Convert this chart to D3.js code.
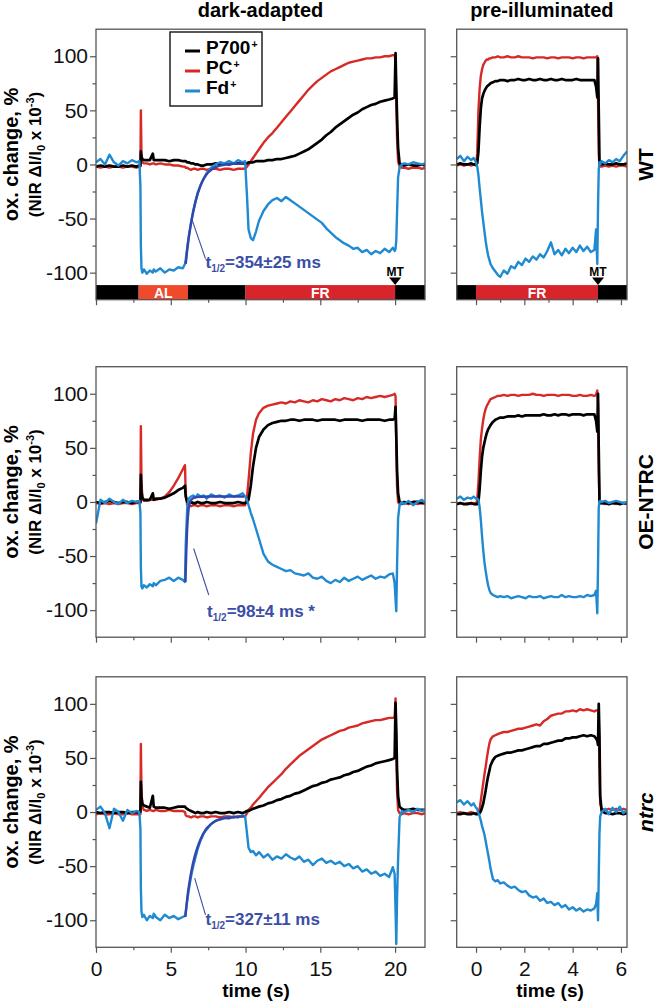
<!DOCTYPE html>
<html><head><meta charset="utf-8">
<script src="https://cdn.jsdelivr.net/npm/d3@7"></script>
<style>
body{margin:0;background:#fff;}
svg{display:block;}
text{font-family:"Liberation Sans",Arial,Helvetica,sans-serif;}
</style></head><body>
<svg id="chart" width="656" height="1003"></svg>
<script>
// ---------------- DATA ----------------
// time grid (s) for the dark-adapted traces
const tLeft = [0,0.3,0.6,0.9,1.2,1.5,1.8,2.1,2.4,2.7, 2.9,2.97,3.0,3.04,3.1,3.2, 3.4,3.6,3.8,3.86,
  4.0,4.3,4.6,4.9,5.2,5.5,5.8, 5.95,6.0,6.1,6.2,6.35,6.5,6.65,6.8, 7.0,7.2,7.4, 7.7,8.0,8.3,8.6,8.9,9.2,9.5,9.8,
  9.97,10.1,10.2,10.35,10.5,10.7,10.9,
  11.2,11.5,11.8,12.1,12.4,12.7,13.0,13.3,13.6,13.9,14.2,14.5,14.8,15.1,15.4,15.7,16.0,16.3,16.6,16.9,17.2,17.5,17.8,18.1,18.4,18.7,19.0,19.3,19.6,
  19.85,19.97,20.03,20.08,20.13,20.2,20.3,20.45,20.6, 20.9,21.2,21.5,21.8,22.0];
// time grid (s) for the pre-illuminated traces
const tRight = [-0.8,-0.65,-0.5,-0.35,-0.2,-0.1,0, 0.05,0.1,0.15,0.2,0.25,0.3,0.35,0.4,0.45,0.5,0.55,0.6, 0.7,0.8,0.9,1.0,
  1.15,1.3,1.45,1.6,1.75,1.9,2.05,2.2,2.35,2.5,2.65,2.8,2.95,3.1,3.25,3.4,3.55,3.7,3.85,4.0,4.15,4.3,4.45,4.6,4.75,4.9,
  4.97,5.02,5.05,5.08,5.11,5.14,5.2, 5.35,5.5,5.65,5.8,5.95,6.1,6.25];

// WT, dark-adapted
const wtDarkP700 = [-2,-1,-2,-1,-2,-2,-1,-2,-1,-2, -1,-1,12,7,5,4, 4,4,10,4, 4,4,4,3,4,4,3, 3,3,2,2,1,1,0,0, -1,-1,0, 0,1,0,1,0,1,1,1, 1,1,2,2,2,3,3,
  3,4,4,5,5,6,7,8,10,12,14,17,20,23,27,30,34,37,40,43,46,48,51,53,55,56,58,59,60,
  61,62,103,70,45,15,1,0,-1, 0,-1,-1,0,-1];
const wtDarkPC = [-2,-3,-2,-3,-2,-2,-3,-2,-2,-3, -2,-2,50,10,2,1, 1,0,1,1, 0,1,0,0,-1,-1,-2, -2,-3,-3,-4,-5,-4,-4,-5, -4,-4,-5, -4,-4,-5,-4,-4,-5,-4,-4, -4,-2,0,3,6,10,14,
  20,25,29,34,39,44,49,54,59,64,69,73,77,80,83,86,88,90,92,94,95,96,97,98,98,99,99,100,100,
  101,101,95,60,25,3,-2,-3,-3, -4,-3,-3,-4,-3];
const wtDarkFd = [2,5,0,9,2,-1,3,1,4,2, 3,-20,-75,-96,-100,-97, -101,-98,-100,-97, -99,-96,-100,-97,-98,-95,-96, -92,-88,-77,-67,-54,-43,-34,-26, -19,-13,-8, -3,0,2,1,3,1,4,2, 3,-30,-60,-68,-70,-62,-52,
  -43,-37,-33,-31,-34,-30,-33,-36,-39,-42,-45,-48,-51,-54,-59,-63,-67,-70,-73,-75,-78,-77,-81,-79,-83,-80,-82,-78,-81,
  -77,-80,-78,-70,-45,-12,-3,0,1, 0,2,1,0,1];
// WT, pre-illuminated
const wtPreP700 = [0,1,0,0,1,0,0, 1,12,35,52,61,65,68,70,72,73,74,75, 76,77,77,78,
  78,77,78,78,79,78,78,79,78,78,79,78,78,79,78,78,79,78,78,78,79,78,78,78,78,78,
  72,62,98,50,3,0,0, 1,0,0,1,0,0,1];
const wtPrePC = [-1,0,-1,0,-1,0,-1, 10,50,70,82,88,92,94,96,97,97,98,98, 99,99,100,99,
  99,100,99,99,100,99,99,99,98,99,99,99,98,99,99,98,99,99,99,98,99,99,98,99,99,99,
  99,100,60,10,-1,-2,-2, -1,-2,-1,-2,-1,-1,-2];
const wtPreFd = [5,8,3,7,4,6,2, -2,-10,-22,-33,-44,-53,-62,-71,-78,-84,-88,-92, -96,-99,-102,-104,
  -98,-101,-94,-96,-90,-93,-87,-90,-85,-88,-83,-86,-80,-72,-83,-79,-84,-78,-82,-77,-81,-75,-80,-76,-81,-79,
  -60,-92,-40,-5,2,0,3, 1,4,2,5,3,8,12];

// OE-NTRC, dark-adapted
const oeDarkP700 = [0,-1,0,1,0,-1,0,0,-1,0, 0,0,25,10,4,2, 2,2,8,2, 3,3,4,6,8,11,13, 15,5,0,-1,0,-1,-1,0, -1,-1,0, -1,-1,0,-1,-1,-1,0,-1, -1,0,2,15,33,50,60,
  67,71,73,74,75,75,76,76,75,76,76,76,75,76,76,76,76,75,76,76,76,76,75,76,76,76,76,75,76,
  76,77,88,60,30,8,0,-1,0, -1,0,0,-1,0];
const oeDarkPC = [-1,-2,-1,-2,-1,-2,-1,-1,-2,-1, -1,-1,70,20,3,1, 1,2,2,2, 2,3,5,9,15,22,30, 34,8,-3,-3,-4,-3,-3,-4, -3,-3,-4, -3,-3,-4,-3,-3,-4,-3,-3, -3,5,20,45,63,76,82,
  87,89,90,91,92,91,93,92,94,93,92,94,93,95,94,93,95,94,96,95,94,96,95,97,96,97,98,97,98,
  99,100,98,55,15,0,-2,-2,-1, -2,-1,-2,-1,-2];
const oeDarkFd = [-20,2,-1,3,0,-2,2,-1,1,0, 1,-10,-60,-78,-80,-77, -79,-76,-78,-75, -77,-73,-72,-70,-73,-70,-72, -74,-40,-5,3,5,6,4,7, 5,6,3, 7,5,6,4,7,5,6,8, 5,2,-3,-10,-16,-25,-34,
  -48,-55,-58,-60,-62,-64,-63,-66,-67,-68,-66,-70,-71,-69,-73,-75,-72,-74,-70,-73,-71,-69,-72,-70,-68,-71,-69,-70,-67,
  -66,-75,-90,-101,-60,-15,-3,0,-2, 1,-3,0,2,-1];
// OE-NTRC, pre-illuminated
const oePreP700 = [-2,-1,-2,-2,-1,-2,-2, -2,0,12,29,42,50,55,60,64,67,69,71, 74,76,77,78,
  78,79,79,79,80,79,80,80,80,80,80,81,80,80,81,80,81,81,80,81,81,81,80,81,81,81,
  75,65,100,50,2,-1,-1, -1,-2,-1,-1,-2,-1,-1];
const oePrePC = [-2,-1,-2,-1,-2,-1,-2, 2,18,40,58,68,76,82,86,89,91,93,95, 96,97,98,98,
  99,98,99,99,98,99,99,99,100,99,99,98,99,99,99,98,99,99,99,98,98,99,98,98,99,98,
  99,103,90,30,0,-1,-1, -2,-1,-1,-2,-1,-1,-2];
const oePreFd = [3,5,2,4,3,5,3, 3,2,-5,-17,-32,-45,-56,-64,-71,-77,-81,-84, -86,-87,-88,-87,
  -88,-87,-89,-88,-87,-88,-89,-87,-88,-88,-87,-89,-88,-87,-88,-88,-86,-88,-87,-88,-88,-87,-88,-86,-87,-86,
  -82,-103,-60,-5,0,1,0, 1,-1,0,1,0,-1,0];

// ntrc, dark-adapted
const ntDarkP700 = [0,-1,0,0,-1,0,0,-1,0,0, 0,0,28,14,8,6, 5,4,15,5, 4,4,4,3,4,5,5, 5,4,3,2,1,0,-1,0, -1,-1,0, -1,0,-1,-1,0,-1,0,-1, 0,1,1,2,3,4,5,
  6,8,9,11,12,14,15,17,18,20,22,24,25,27,28,30,31,32,34,35,37,38,40,42,43,45,46,47,48,
  49,50,101,75,40,15,5,3,2, 2,3,2,2,2];
const ntDarkPC = [-2,-1,-2,-2,-1,-2,-2,-1,-2,-2, -2,-2,63,20,5,2, 1,2,1,1, 2,1,1,2,1,1,1, 0,-3,-4,-4,-5,-4,-4,-5, -4,-4,-5, -4,-4,-5,-4,-4,-5,-4,-4, -4,-1,2,4,7,10,13,
  18,23,27,31,35,40,44,48,52,55,58,61,64,67,69,71,73,75,76,78,79,80,82,83,84,85,85,86,87,
  87,88,105,60,20,2,-1,-2,-1, -2,-1,-1,-2,-1];
const ntDarkFd = [2,5,-1,-15,3,0,-8,2,-1,1, 0,-15,-70,-92,-97,-95, -100,-96,-98,-94, -97,-100,-95,-98,-96,-99,-97, -96,-92,-82,-72,-60,-50,-42,-34, -26,-20,-16, -11,-8,-7,-5,-6,-4,-5,-3, -4,-20,-33,-37,-36,-40,-37,
  -42,-39,-44,-41,-43,-39,-42,-44,-41,-46,-44,-49,-45,-43,-47,-45,-48,-46,-50,-48,-52,-50,-55,-53,-57,-55,-59,-57,-60,
  -51,-57,-90,-122,-80,-44,-5,1,0, 2,0,3,1,2];
// ntrc, pre-illuminated
const ntPreP700 = [-2,-2,-1,-2,-2,-1,-2, -2,-2,-1,1,4,8,14,20,27,33,38,43, 48,51,52,53,
  54,55,55,56,57,57,58,59,60,61,61,63,63,64,65,66,66,68,68,69,69,70,71,70,71,70,
  68,66,62,100,70,15,1, -1,-1,-2,-1,-1,-2,-1];
const ntPrePC = [-1,0,-1,-1,0,-1,-1, -1,0,3,11,19,27,35,42,50,57,63,67, 70,71,72,73,
  74,74,75,76,77,77,78,79,80,81,80,84,86,89,90,91,91,93,93,94,93,95,94,95,94,93,
  94,94,93,90,40,8,3, 2,3,2,3,2,3,2];
const ntPreFd = [9,11,7,10,6,8,4, 3,-1,-4,-8,-13,-17,-21,-27,-33,-39,-45,-52, -62,-64,-63,-66,
  -65,-68,-70,-69,-72,-74,-73,-77,-79,-78,-82,-80,-84,-83,-86,-84,-88,-86,-90,-88,-91,-89,-92,-90,-91,-89,
  -85,-75,-100,-60,-20,-4,0, 3,-2,4,0,5,-1,2];

// exponential fits of the Fd re-reduction after actinic light off
const fitWtT = [6.0,6.1,6.2,6.35,6.5,6.7,6.9,7.1,7.4,7.8,8.3,9.0,9.9];
const fitWtV = [-92,-79,-68,-55,-44,-32,-23,-16,-9,-4,-1,0.5,1];
const fitOeT = [5.98,6.03,6.08,6.13,6.2,6.3,6.45,6.7,7.5,9.9];
const fitOeV = [-74,-50,-30,-17,-6,0,3,4.5,5,5];
const fitNtT = [5.98,6.1,6.25,6.4,6.6,6.8,7.0,7.3,7.7,8.2,9.0,9.9];
const fitNtV = [-97,-80,-65,-53,-41,-32,-25,-17,-11,-7,-5,-4];
const halfTimes = ["354±25 ms", "98±4 ms *", "327±11 ms"];

// light protocol bars
const protoDarkStart = [0, 2.85, 6.15, 10, 20];
const protoDarkEnd   = [2.85, 6.15, 10, 20, 22];
const protoDarkKind  = ["dark", "AL", "dark", "FR", "dark"];
const protoPreStart = [-0.8, 0, 5.05];
const protoPreEnd   = [0, 5.05, 6.25];
const protoPreKind  = ["dark", "FR", "dark"];
const mtDark = 20, mtPre = 5.05;

// axes ticks and labels
const yMajor = [-100, -50, 0, 50, 100];
const yMinor = [-75, -25, 25, 75];
const xDarkMajor = [0, 5, 10, 15, 20];
const xDarkMinor = [2.5, 7.5, 12.5, 17.5];
const xPreMajor = [0, 2, 4, 6];
const xPreMinor = [1, 3, 5];
const rowLabels = ["WT", "OE-NTRC", "ntrc"];
const colTitles = ["dark-adapted", "pre-illuminated"];
const seriesNames = ["P700", "PC", "Fd"];

// sanity check
[["wtDarkP700",wtDarkP700],["wtDarkPC",wtDarkPC],["wtDarkFd",wtDarkFd],["oeDarkP700",oeDarkP700],["oeDarkPC",oeDarkPC],["oeDarkFd",oeDarkFd],["ntDarkP700",ntDarkP700],["ntDarkPC",ntDarkPC],["ntDarkFd",ntDarkFd]].forEach(([n,a])=>{ if(a.length!==tLeft.length) throw new Error(n+" length "+a.length+" != "+tLeft.length); });
[["wtPreP700",wtPreP700],["wtPrePC",wtPrePC],["wtPreFd",wtPreFd],["oePreP700",oePreP700],["oePrePC",oePrePC],["oePreFd",oePreFd],["ntPreP700",ntPreP700],["ntPrePC",ntPrePC],["ntPreFd",ntPreFd]].forEach(([n,a])=>{ if(a.length!==tRight.length) throw new Error(n+" length "+a.length+" != "+tRight.length); });

// ---------------- LAYOUT ----------------
const rows = [
  {dark:{p700:wtDarkP700, pc:wtDarkPC, fd:wtDarkFd}, pre:{p700:wtPreP700, pc:wtPrePC, fd:wtPreFd},
   fit:{t:fitWtT, v:fitWtV}, ann:{line:[[6.42,-51],[7.32,-87]], text:[7.32,-96]}},
  {dark:{p700:oeDarkP700, pc:oeDarkPC, fd:oeDarkFd}, pre:{p700:oePreP700, pc:oePrePC, fd:oePreFd},
   fit:{t:fitOeT, v:fitOeV}, ann:{line:[[6.53,-43],[7.54,-86]], text:[7.43,-106]}},
  {dark:{p700:ntDarkP700, pc:ntDarkPC, fd:ntDarkFd}, pre:{p700:ntPreP700, pc:ntPrePC, fd:ntPreFd},
   fit:{t:fitNtT, v:fitNtV}, ann:{line:[[6.6,-61],[7.32,-95]], text:[7.32,-104]}}
];
const COL = {
  dark:{x0:96, x1:425, domain:[0,22], t:tLeft, xMajor:xDarkMajor, xMinor:xDarkMinor},
  pre:{x0:456.7, x1:627, domain:[-0.8,6.25], t:tRight, xMajor:xPreMajor, xMinor:xPreMinor}
};
const ROW_TOP = [29.2, 366.7, 676.8], ROW_H = 270.5;
const C = {p700:"#000000", pc:"#d62a27", fd:"#1f8ad2", fit:"#3446ad", ann:"#3b4ea6",
  axis:"#555555", AL:"#ee4a2b", FR:"#d8242b", dark:"#000000"};
const FONT = '"Liberation Sans",Arial,Helvetica,sans-serif';

const svg = d3.select("#chart");
const defs = svg.append("defs");

rows.forEach((row, ri) => {
  ["dark","pre"].forEach(ck => {
    const col = COL[ck];
    const x = d3.scaleLinear().domain(col.domain).range([col.x0, col.x1]);
    const y = d3.scaleLinear().domain([-125,125]).range([ROW_TOP[ri]+ROW_H, ROW_TOP[ri]]);
    const g = svg.append("g");
    const clipId = `clip-${ri}-${ck}`;
    defs.append("clipPath").attr("id", clipId).append("rect")
      .attr("x", col.x0).attr("y", ROW_TOP[ri]).attr("width", col.x1-col.x0).attr("height", ROW_H);

    // traces
    const tg = g.append("g").attr("clip-path", `url(#${clipId})`);
    const line = d3.line().x((d,i)=>x(col.t[i])).y(d=>y(d));
    [["pc",2.4],["p700",2.7],["fd",2.4]].forEach(([k,w]) => {
      tg.append("path").attr("d", line(row[ck][k])).attr("fill","none")
        .attr("stroke", C[k]).attr("stroke-width", w).attr("stroke-linejoin","round");
    });

    if (ck === "dark") {
      const fl = d3.line().x((d,i)=>x(row.fit.t[i])).y(d=>y(d)).curve(d3.curveMonotoneX);
      tg.append("path").attr("d", fl(row.fit.v)).attr("fill","none")
        .attr("stroke", C.fit).attr("stroke-width", 2.4);
      // pointer + text
      const a = row.ann;
      g.append("line").attr("x1", x(a.line[0][0])).attr("y1", y(a.line[0][1]))
        .attr("x2", x(a.line[1][0])).attr("y2", y(a.line[1][1]))
        .attr("stroke", C.ann).attr("stroke-width", 1.1);
      const at = g.append("text").attr("x", x(a.text[0])).attr("y", y(a.text[1]))
        .attr("fill", C.ann).attr("font-weight","bold").attr("font-size", 17);
      at.append("tspan").text("t");
      at.append("tspan").attr("font-size", 10).attr("dy", 4).text("1/2");
      at.append("tspan").attr("dy", -4).text("=" + halfTimes[ri]);
    }

    // protocol bar (top row only)
    if (ri === 0) {
      const starts = ck==="dark" ? protoDarkStart : protoPreStart;
      const ends = ck==="dark" ? protoDarkEnd : protoPreEnd;
      const kinds = ck==="dark" ? protoDarkKind : protoPreKind;
      const yb0 = y(-111.5), yb1 = y(-125);
      starts.forEach((s,i) => {
        g.append("rect").attr("x", x(s)).attr("y", yb0).attr("width", x(ends[i])-x(s)).attr("height", yb1-yb0)
          .attr("fill", C[kinds[i]]);
        if (kinds[i] !== "dark") {
          g.append("text").attr("x", (x(s)+x(ends[i]))/2).attr("y", yb1-1.8)
            .attr("text-anchor","middle").attr("fill","#fff").attr("font-weight","bold")
            .attr("font-size", 14).text(kinds[i]);
        }
      });
      const mx = x(ck==="dark" ? mtDark : mtPre);
      g.append("path").attr("d", `M${mx-6},${yb0-7.5}L${mx+6},${yb0-7.5}L${mx},${yb0}Z`).attr("fill","#000");
      g.append("text").attr("x", mx).attr("y", yb0-9.5).attr("text-anchor","middle")
        .attr("font-weight","bold").attr("font-size", 12).text("MT");
    }

    // axes
    const styleAxis = sel => {
      sel.select(".domain").remove();
      sel.selectAll("line").attr("stroke", C.axis).attr("stroke-width", 1.2);
      sel.selectAll("text").attr("font-family", FONT).attr("font-size", 21).attr("fill","#111");
    };
    g.append("g").attr("transform", `translate(${col.x0},0)`)
      .call(d3.axisLeft(y).tickValues(yMajor).tickSize(6).tickPadding(2)
        .tickFormat(ck==="dark" ? (d=>String(d)) : (()=>"")))
      .call(styleAxis);
    g.append("g").attr("transform", `translate(${col.x0},0)`)
      .call(d3.axisLeft(y).tickValues(yMinor).tickSize(3.5).tickFormat(()=>""))
      .call(styleAxis);
    const yBot = ROW_TOP[ri] + ROW_H;
    g.append("g").attr("transform", `translate(0,${yBot})`)
      .call(d3.axisBottom(x).tickValues(col.xMajor).tickSize(5.5).tickPadding(8.5)
        .tickFormat(ri===2 ? (d=>String(d)) : (()=>"")))
      .call(styleAxis);
    g.append("g").attr("transform", `translate(0,${yBot})`)
      .call(d3.axisBottom(x).tickValues(col.xMinor).tickSize(3).tickFormat(()=>""))
      .call(styleAxis);

    // frame
    g.append("rect").attr("x", col.x0).attr("y", ROW_TOP[ri]).attr("width", col.x1-col.x0).attr("height", ROW_H)
      .attr("fill","none").attr("stroke", C.axis).attr("stroke-width", 1.3);

    // y-axis title (left column)
    if (ck === "dark") {
      const cy = ROW_TOP[ri] + ROW_H/2 - 10;
      svg.append("text").attr("transform", `translate(17.5,${cy}) rotate(-90)`)
        .attr("text-anchor","middle").attr("font-weight","bold").attr("font-size", 20)
        .text("ox. change, %");
      const t2 = svg.append("text").attr("transform", `translate(41,${cy}) rotate(-90)`)
        .attr("text-anchor","middle").attr("font-weight","bold").attr("font-size", 17);
      t2.append("tspan").text("(NIR ΔI/I");
      t2.append("tspan").attr("font-size", 11).attr("dy", 4).text("0");
      t2.append("tspan").attr("dy", -4).text(" x 10");
      t2.append("tspan").attr("font-size", 11).attr("dy", -7).text("-3");
      t2.append("tspan").attr("dy", 7).text(")");
    } else {
      svg.append("text").attr("transform", `translate(653,${y(0)}) rotate(-90)`)
        .attr("text-anchor","middle").attr("font-weight","bold").attr("font-size", 21)
        .attr("font-style", ri===2 ? "italic" : "normal").text(rowLabels[ri]);
    }

    // x-axis title (bottom row)
    if (ri === 2) {
      svg.append("text").attr("x", ck==="dark" ? 256 : 550).attr("y", 997)
        .attr("text-anchor","middle").attr("font-weight","bold").attr("font-size", 19).text("time (s)");
    }
    // column titles
    if (ri === 0) {
      svg.append("text").attr("x", (col.x0+col.x1)/2).attr("y", 17)
        .attr("text-anchor","middle").attr("font-weight","bold").attr("font-size", 20)
        .text(colTitles[ck==="dark"?0:1]);
    }

    // legend (top-left panel)
    if (ri === 0 && ck === "dark") {
      const lg = svg.append("g");
      lg.append("rect").attr("x",170).attr("y",32).attr("width",92).attr("height",74)
        .attr("fill","#fff").attr("stroke","#222").attr("stroke-width",1.5);
      const keys = ["p700","pc","fd"];
      seriesNames.forEach((nm,i) => {
        const by = 54 + i*20;
        lg.append("line").attr("x1",185).attr("x2",200).attr("y1",by-3).attr("y2",by-3)
          .attr("stroke", C[keys[i]]).attr("stroke-width",3);
        const tx = lg.append("text").attr("x",206).attr("y",by).attr("font-weight","bold").attr("font-size",19)
          .text(nm);
        const w = tx.node().getComputedTextLength();
        lg.append("text").attr("x", 206 + w + 1).attr("y", by - 6)
          .attr("font-weight","bold").attr("font-size",10.5).text("+");
      });
    }
  });
});
</script>
</body></html>
